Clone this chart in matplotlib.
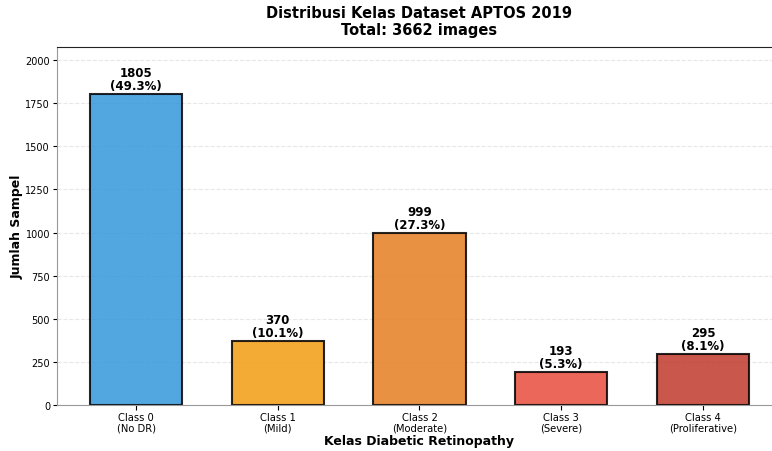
import numpy as np
import matplotlib
matplotlib.use('Agg')
import matplotlib.pyplot as plt

# Data
kelas = ['Class 0\n(No DR)', 'Class 1\n(Mild)', 'Class 2\n(Moderate)', 'Class 3\n(Severe)', 'Class 4\n(Proliferative)']
jumlah = [1805, 370, 999, 193, 295]
warna = ['#3498db', '#f39c12', '#e67e22', '#e74c3c', '#c0392b']

total = sum(jumlah)

fig = plt.figure(figsize=(7.72, 4.52), dpi=100)
# axes runs a little past the right edge (cropped figure)
ax = fig.add_axes([57/772, (452-406)/452, (782-57)/772, (406-48)/452])

x = np.arange(len(kelas))
bars = ax.bar(x, jumlah, width=0.65, color=warna, alpha=0.85, edgecolor='black', linewidth=1.5)
for b in bars:
    b.set_edgecolor((0, 0, 0, 0.85))

for b, n in zip(bars, jumlah):
    ax.text(b.get_x() + b.get_width()/2, b.get_height() + 10,
            f'{n}\n({n/total*100:.1f}%)', ha='center', va='bottom',
            fontsize=8.5, fontweight='bold', linespacing=1.0)

ax.set_xticks(x)
ax.set_xticklabels(kelas, fontsize=7.2, linespacing=1.1)
ax.tick_params(axis='x', pad=1.5)
ax.tick_params(axis='y', labelsize=7, pad=2, length=3)
ax.set_ylim(0, max(jumlah) * 1.15)
ax.set_xlim(-0.5575, 4.5575)
ax.set_yticks(np.arange(0, 2001, 250))
ax.yaxis.grid(True, linestyle='--', alpha=0.3)
ax.set_axisbelow(True)

ax.set_xlabel('Kelas Diabetic Retinopathy', fontsize=9, fontweight='bold', labelpad=1)
ax.set_ylabel('Jumlah Sampel', fontsize=9, fontweight='bold')
ax.yaxis.set_label_coords(-0.0455, 0.5)
ax.set_title('Distribusi Kelas Dataset APTOS 2019\nTotal: 3662 images', fontsize=10.5, fontweight='bold', pad=9)

ax.spines['left'].set_color('#999999')
ax.spines['bottom'].set_color('#999999')
ax.spines['top'].set_color('#222222')

fig.savefig('out.png', dpi=100)
